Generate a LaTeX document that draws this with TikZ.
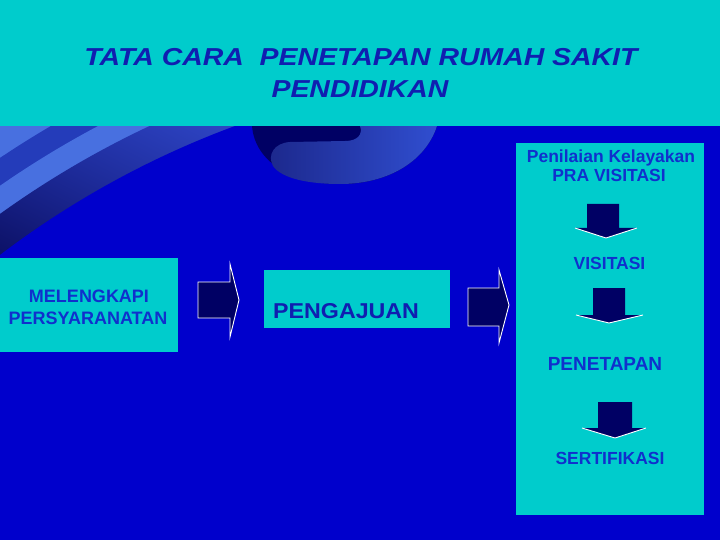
\documentclass[tikz,border=0pt]{standalone}
\usepackage{fontspec}
\usetikzlibrary{shadings}
\setmainfont{Liberation Sans}
\newfontfamily\titlefont[FakeStretch=1.16]{Liberation Sans}
\newfontfamily\pengfont[FakeStretch=1.08]{Liberation Sans}
\definecolor{mainblue}{RGB}{0,0,204}
\definecolor{cyanbg}{RGB}{0,204,204}
\definecolor{navy}{RGB}{0,0,100}
\definecolor{lightband}{RGB}{72,112,224}
\definecolor{midband}{RGB}{36,60,186}
\definecolor{titleblue}{RGB}{16,30,176}
\definecolor{boxtext}{RGB}{16,48,204}
\definecolor{bandLL}{RGB}{12,16,100}
\definecolor{bandUR}{RGB}{48,72,200}
\definecolor{bandMid}{RGB}{30,44,160}
\definecolor{swL}{RGB}{28,40,140}
\definecolor{swR}{RGB}{48,78,208}
\tikzset{
  panel/.style={fill=cyanbg, draw=none},
  blockarrow/.style={fill=navy, draw=white, line width=0.9pt, line join=miter},
  boxlabel/.style={font=\bfseries\fontsize{17.5}{20}\selectfont, text=boxtext, inner sep=0pt, anchor=base},
  titlelabel/.style={font=\titlefont\bfseries\itshape\fontsize{24.5}{30}\selectfont, text=titleblue, inner sep=0pt, anchor=base}
}
\begin{document}
\begin{tikzpicture}[x=1pt,y=-1pt]
\useasboundingbox (0,0) rectangle (720,540);
\fill[mainblue] (0,0) rectangle (720,540);
% decorative swoosh top left
\begin{scope}
  \clip (0,126) rectangle (720,540);
  \fill[lightband] (0,126) rectangle (300,300);
  \fill[midband] (550,980) circle[radius=989pt];
  \fill[lightband] (550,980) circle[radius=966pt];
  \begin{scope}
    \clip (550,980) circle[radius=943pt];
    \shade[lower left=bandLL, upper right=bandUR, upper left=bandMid, lower right=bandMid]
      (0,260) rectangle (260,126);
  \end{scope}
  \fill[mainblue] (550,980) circle[radius=910pt];
  % second swoosh
  \fill[navy] (252,126) .. controls (255,162) and (292,184) .. (340,184)
     .. controls (390,184) and (426,160) .. (437,126) -- cycle;
  \shade[left color=swL, right color=swR]
     (437,126) -- (360,126) .. controls (363,134) and (358,141) .. (345,141)
     -- (290,142) .. controls (274,143) and (267,155) .. (273,166)
     .. controls (282,179) and (310,184) .. (340,184)
     .. controls (390,184) and (426,160) .. (437,126) -- cycle;
\end{scope}
% title band
\fill[cyanbg] (0,0) rectangle (720,126);
\node[titlelabel] (title1) at (361,66) {TATA CARA\ \ PENETAPAN RUMAH SAKIT};
\node[titlelabel] (title2) at (360,98) {PENDIDIKAN};
% boxes
\fill[panel] (0,258) rectangle (178,352);
\coordinate (leftbox) at (89,305);
\fill[panel] (264,270) rectangle (450,328);
\coordinate (midbox) at (357,299);
\fill[panel] (516,143) rectangle (704,515);
\coordinate (rightbox) at (610,329);
% left box text
\node[boxlabel, font=\bfseries\fontsize{18}{21}\selectfont] (mel) at (89,302) {MELENGKAPI};
\node[boxlabel, font=\bfseries\fontsize{18}{21}\selectfont] (pers) at (88,324) {PERSYARANATAN};
% middle box text
\node[font=\pengfont\bfseries\fontsize{21.5}{26}\selectfont, text=titleblue, inner sep=0pt, anchor=base west] (peng) at (273,318) {PENGAJUAN};
% right column text
\node[boxlabel] (pen) at (611,163) {Penilaian Kelayakan};
\node[boxlabel] (pra) at (609,182) {PRA VISITASI};
\node[boxlabel] (vis) at (609.5,269) {VISITASI};
\node[boxlabel, font=\bfseries\fontsize{19}{22}\selectfont] (pet) at (605,370) {PENETAPAN};
\node[boxlabel] (ser) at (610,464) {SERTIFIKASI};
% right block arrows
\draw[blockarrow] (198,282) -- (230,282) -- (230,264) -- (239,300) -- (230,337) -- (230,318) -- (198,318) -- cycle;
\draw[blockarrow] (468,288) -- (499,288) -- (499,270) -- (509,305) -- (499,343) -- (499,326) -- (468,326) -- cycle;
% down block arrows
\fill[navy] (587,204) -- (619,204) -- (619,228) -- (637,228) -- (606,238) -- (575,228) -- (587,228) -- cycle;
\draw[white, line width=0.9pt] (575,228) -- (606,238) -- (637,228);
\fill[navy] (593,288) -- (625,288) -- (625,315) -- (643,315) -- (609,323) -- (576,315) -- (593,315) -- cycle;
\draw[white, line width=0.9pt] (576,315) -- (609,323) -- (643,315);
\fill[navy] (598,402) -- (632,402) -- (632,428) -- (646,428) -- (615,438) -- (582,428) -- (598,428) -- cycle;
\draw[white, line width=0.9pt] (582,428) -- (615,438) -- (646,428);
\end{tikzpicture}
\end{document}
